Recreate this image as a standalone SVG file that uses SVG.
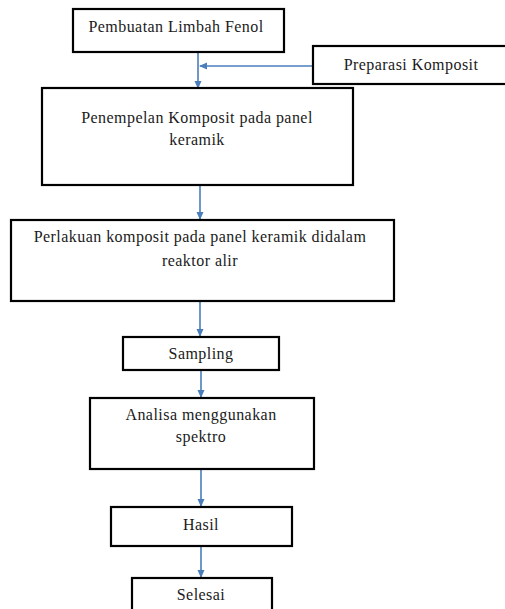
<svg xmlns="http://www.w3.org/2000/svg" width="505" height="609" viewBox="0 0 505 609">
<defs>
<style>
.box{fill:#fff;stroke:#000;stroke-width:2.2}
.t{font-family:'Liberation Serif','Times New Roman',serif;font-size:16px;fill:#1a1a1a;text-anchor:middle;letter-spacing:0.45px}
.c{stroke:#4a7ebb;stroke-width:1.6;fill:none}
</style>
<marker id="ah" markerWidth="8" markerHeight="8" refX="7" refY="4" orient="auto" markerUnits="userSpaceOnUse">
<path d="M0,0.5 L8,4 L0,7.5 Z" fill="#4a7ebb"/>
</marker>
</defs>
<rect width="505" height="609" fill="#fff"/>
<g id="connectors">
<line class="c" x1="198" y1="52" x2="198" y2="88" marker-end="url(#ah)"/>
<line class="c" x1="312" y1="66" x2="200" y2="66" marker-end="url(#ah)"/>
<line class="c" x1="200" y1="185" x2="200" y2="219" marker-end="url(#ah)"/>
<line class="c" x1="200" y1="301" x2="200" y2="336" marker-end="url(#ah)"/>
<line class="c" x1="201" y1="370" x2="201" y2="397" marker-end="url(#ah)"/>
<line class="c" x1="201" y1="469" x2="201" y2="506" marker-end="url(#ah)"/>
<line class="c" x1="201" y1="546" x2="201" y2="577" marker-end="url(#ah)"/>
</g>
<g id="n1">
<rect class="box" x="73" y="9" width="211" height="43"/>
<text class="t" x="176" y="32">Pembuatan Limbah Fenol</text>
</g>
<g id="n2">
<rect class="box" x="313" y="46" width="200" height="38"/>
<text class="t" x="411" y="70">Preparasi Komposit</text>
</g>
<g id="n3">
<rect class="box" x="42" y="88" width="311" height="97"/>
<text class="t" x="197" y="123">Penempelan Komposit pada panel</text>
<text class="t" x="197" y="145">keramik</text>
</g>
<g id="n4">
<rect class="box" x="11" y="220" width="383" height="81"/>
<text class="t" x="200" y="242">Perlakuan komposit pada panel keramik didalam</text>
<text class="t" x="200" y="266">reaktor alir</text>
</g>
<g id="n5">
<rect class="box" x="123" y="337" width="156" height="33"/>
<text class="t" x="201" y="359">Sampling</text>
</g>
<g id="n6">
<rect class="box" x="90" y="398" width="224" height="71"/>
<text class="t" x="201" y="420">Analisa menggunakan</text>
<text class="t" x="201" y="442">spektro</text>
</g>
<g id="n7">
<rect class="box" x="111" y="507" width="181" height="39"/>
<text class="t" x="201" y="530">Hasil</text>
</g>
<g id="n8">
<rect class="box" x="132" y="578" width="140" height="40"/>
<text class="t" x="201" y="600">Selesai</text>
</g>
</svg>
